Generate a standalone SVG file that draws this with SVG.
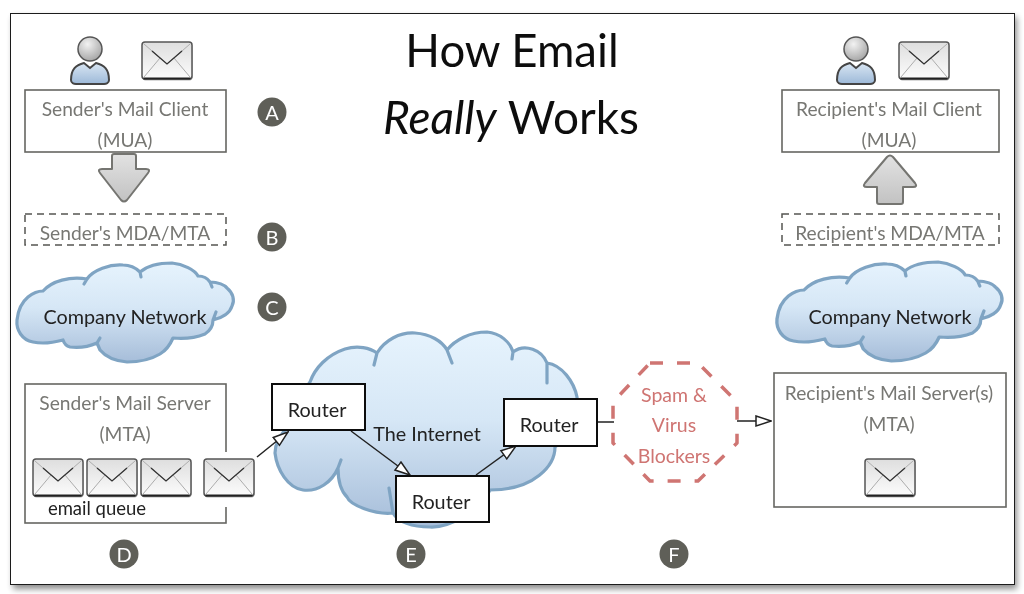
<svg xmlns="http://www.w3.org/2000/svg" xmlns:xlink="http://www.w3.org/1999/xlink" width="1024" height="594" viewBox="0 0 1024 594">
<style>
text{font-family:"Lato","Liberation Sans",sans-serif;text-anchor:middle}
.g{fill:#777773;font-size:19.200px}
.k{fill:#222;font-size:19.800px}
.box{fill:#fff;stroke:#666662;stroke-width:1.600}
.dash{fill:#fff;stroke:#555551;stroke-width:1.500;stroke-dasharray:7 5}
.router{fill:#fff;stroke:#111;stroke-width:2}
.cloud{fill:url(#cg);stroke:#7fa4c3;stroke-width:3.200;stroke-linejoin:round;stroke-linecap:round}
.badge{fill:#5f5f59}
.bt{fill:#fff;font-size:20px}
.conn{fill:none;stroke:#222;stroke-width:1.500}
.big{fill:url(#ag);stroke:#757571;stroke-width:2;stroke-linejoin:round}
.r{fill:#cf7472;font-size:19.500px}
</style>
<defs>
<linearGradient id="cg" x1="0" y1="0" x2="0" y2="1"><stop offset="0" stop-color="#e6f3fd"/><stop offset=".45" stop-color="#d6e7f6"/><stop offset="1" stop-color="#a6bdd9"/></linearGradient>
<linearGradient id="ag" x1="0" y1="0" x2="0" y2="1"><stop offset="0" stop-color="#e2e2e2"/><stop offset="1" stop-color="#c2c2c2"/></linearGradient>
<linearGradient id="eg" x1="0" y1="0" x2="0" y2="1"><stop offset="0" stop-color="#dedede"/><stop offset="1" stop-color="#fcfcfc"/></linearGradient>
<linearGradient id="bg" x1="0" y1="0" x2="0" y2="1"><stop offset="0" stop-color="#d9e6f3"/><stop offset="1" stop-color="#9db9d8"/></linearGradient>
<radialGradient id="hg" cx=".4" cy=".3" r=".8"><stop offset="0" stop-color="#f2f2f2"/><stop offset="1" stop-color="#9d9d9d"/></radialGradient>
<filter id="sh" x="-5%" y="-5%" width="110%" height="110%"><feGaussianBlur stdDeviation="3"/></filter>
<filter id="soft" x="0" y="0" width="100%" height="100%"><feGaussianBlur stdDeviation=".45"/></filter>
<marker id="ah" markerWidth="17" markerHeight="13" refX="16" refY="6.500" orient="auto" markerUnits="userSpaceOnUse"><path d="M1 1.500L16 6.500L1 11.500Z" fill="#fff" stroke="#222" stroke-width="1.500"/></marker>
<g id="env">
<rect x="0.500" y="1.500" width="50" height="37" rx="3" fill="#000" opacity=".3"/>
<rect x="0" y="0" width="50" height="37" rx="3" fill="url(#eg)" stroke="#555" stroke-width="1.500"/>
<path d="M1.500 36.500H48.500" stroke="#222" stroke-width="2"/>
<path d="M2 2L25 22L48 2M2 35L18 16M48 35L32 16" fill="none" stroke="#adadad" stroke-width="1"/>
<path d="M10 9L25 22L40 9" fill="none" stroke="#333" stroke-width="1.300"/>
</g>
<g id="person">
<path d="M-19 31C-19 20-14 16-6 14L0 19L6 14C14 16 19 20 19 31C19 34 16 35 14 35H-14C-16 35-19 34-19 31Z" fill="url(#bg)" stroke="#444" stroke-width="2"/>
<circle cx="0" cy="0" r="12" fill="url(#hg)" stroke="#555" stroke-width="1.500"/>
</g>
<path id="co" d="M33 342C22 340 16 330 17 320C18 310 22 302 28 297C33 293 38 291 43 291C52 281 70 276 87 279C93 270 110 264 123 265C130 265 136 268 140 272C148 265 160 263 172 263C183 264 195 270 198 276C205 276 208 279 210 282C218 282 225 285 227 288C233 293 235 300 232 306C230 313 222 318 213 320C213 328 208 332 205 334C195 338 183 339 173 338C170 345 165 351 160 354C150 360 138 362 127 362C115 361 105 356 100 350L97 343C88 347 78 348 70 347C66 346 64 343 63 340C52 343 42 344 33 342ZM87 279L84 284M140 272L141 277M210 282L212 287M213 320L216 312M97 343L100 338"/>
</defs>

<rect x="13" y="17" width="1004" height="572" fill="#000" opacity=".45" filter="url(#sh)"/>
<g filter="url(#soft)">
<rect id="frame" x="10" y="13" width="1005" height="572" fill="#fff" stroke="#1a1a1a" stroke-width="2"/>

<g id="title">
<text x="512" y="67" font-size="45.500" fill="#111">How Email</text>
<text x="511" y="134" font-size="46" fill="#111"><tspan font-style="italic">Really</tspan> Works</text>
</g>

<g id="sender-client">
<use xlink:href="#person" href="#person" x="90" y="49"/>
<use xlink:href="#env" href="#env" x="142" y="42"/>
<rect class="box" x="25" y="90" width="201" height="62"/>
<text class="g" x="125" y="116">Sender's Mail Client</text>
<text class="g" x="125" y="147">(MUA)</text>
</g>
<g id="down-arrow"><path class="big" d="M114 154H134Q136 154 136 156V169H146Q151 169 148 173L127 200Q124 203 121 200L100 173Q97 169 102 169H112V156Q112 154 114 154Z"/></g>
<g id="sender-mda">
<rect class="dash" x="25" y="214" width="201" height="31"/>
<text class="g" x="125" y="240">Sender's MDA/MTA</text>
</g>
<g id="sender-network">
<use xlink:href="#co" href="#co" class="cloud"/>
<text class="k" x="125" y="324">Company Network</text>
</g>

<g id="internet">
<path class="cloud" d="M288 427C292 410 300 395 310 382C315 368 327 355 345 349C358 345 370 348 377 353C385 340 400 332 415 333C430 334 442 341 447 350C455 340 470 332 487 332C500 333 510 342 513 352C525 343 542 350 547 363C562 365 574 382 577 397C580 420 565 440 555 447C555 465 535 490 490 490C480 510 450 528 430 527C412 527 398 522 393 513C375 515 350 505 347 497C340 490 338 480 338 468C332 482 318 492 303 490C288 488 277 470 275 453C275 445 280 435 288 427ZM377 353L374 365M447 350L452 363M513 352L512 359M547 363L547 383M338 468L341 460M393 513L389 488"/>
<text class="k" x="427" y="441">The Internet</text>
</g>

<g id="connectors">
<path class="conn" d="M257 457L288 432" marker-end="url(#ah)"/>
<path class="conn" d="M351 431L410 475" marker-end="url(#ah)"/>
<path class="conn" d="M476 475L516 446" marker-end="url(#ah)"/>
<path class="conn" d="M597 422H614"/>
<path class="conn" d="M737 421H771" marker-end="url(#ah)"/>
</g>

<g id="router-1"><rect class="router" x="272" y="384" width="93" height="46"/><text class="k" x="317" y="417">Router</text></g>
<g id="router-2"><rect class="router" x="396" y="476" width="93" height="46"/><text class="k" x="441" y="509">Router</text></g>
<g id="router-3"><rect class="router" x="504" y="399" width="93" height="47"/><text class="k" x="549" y="432">Router</text></g>

<g id="sender-server">
<rect class="box" x="25" y="384" width="201" height="139"/>
<rect x="215" y="452" width="16" height="55" fill="#fff"/>
<text class="g" x="125" y="410">Sender's Mail Server</text>
<text class="g" x="125" y="441">(MTA)</text>
<use xlink:href="#env" href="#env" x="33" y="459"/>
<use xlink:href="#env" href="#env" x="87" y="459"/>
<use xlink:href="#env" href="#env" x="141" y="459"/>
<text x="97" y="515" font-size="18.500" fill="#222">email queue</text>
</g>
<g id="queue-mail"><use xlink:href="#env" href="#env" x="204" y="459"/></g>

<g id="blockers">
<path d="M650 363H698L737 402V443L698 481H650L613 443V402Z" fill="none" stroke="#cf7472" stroke-width="3.500" stroke-dasharray="13 14" stroke-linejoin="round"/>
<text class="r" x="674" y="402">Spam &amp;</text>
<text class="r" x="674" y="432">Virus</text>
<text class="r" x="674" y="463">Blockers</text>
</g>

<g id="recipient-server">
<rect class="box" x="774" y="373" width="232" height="134"/>
<text class="g" x="889" y="400">Recipient's Mail Server(s)</text>
<text class="g" x="889" y="431">(MTA)</text>
<use xlink:href="#env" href="#env" x="865" y="459"/>
</g>
<g id="recipient-network">
<use xlink:href="#co" href="#co" class="cloud" transform="translate(759.300,-1) scale(1.040,1)"/>
<text class="k" x="890" y="324">Company Network</text>
</g>
<g id="recipient-mda">
<rect class="dash" x="782" y="214" width="217" height="31"/>
<text class="g" x="890" y="240">Recipient's MDA/MTA</text>
</g>
<g id="up-arrow"><path class="big" d="M879 204H901Q903 204 903 202V187H913Q918 187 915 183L893 157Q890 154 887 157L865 183Q862 187 867 187H877V202Q877 204 879 204Z"/></g>
<g id="recipient-client">
<use xlink:href="#person" href="#person" x="856" y="49"/>
<use xlink:href="#env" href="#env" x="899" y="42"/>
<rect class="box" x="782" y="90" width="217" height="62"/>
<text class="g" x="889" y="116">Recipient's Mail Client</text>
<text class="g" x="889" y="147">(MUA)</text>
</g>

<g id="badge-a"><circle class="badge" cx="272" cy="112" r="14.500"/><text class="bt" x="272" y="120">A</text></g>
<g id="badge-b"><circle class="badge" cx="272" cy="237" r="14.500"/><text class="bt" x="272" y="245">B</text></g>
<g id="badge-c"><circle class="badge" cx="272" cy="307" r="14.500"/><text class="bt" x="272" y="315">C</text></g>
<g id="badge-d"><circle class="badge" cx="124" cy="554" r="14.500"/><text class="bt" x="124" y="562">D</text></g>
<g id="badge-e"><circle class="badge" cx="411" cy="554" r="14.500"/><text class="bt" x="411" y="562">E</text></g>
<g id="badge-f"><circle class="badge" cx="674" cy="554" r="14.500"/><text class="bt" x="674" y="562">F</text></g>
</g>
</svg>
